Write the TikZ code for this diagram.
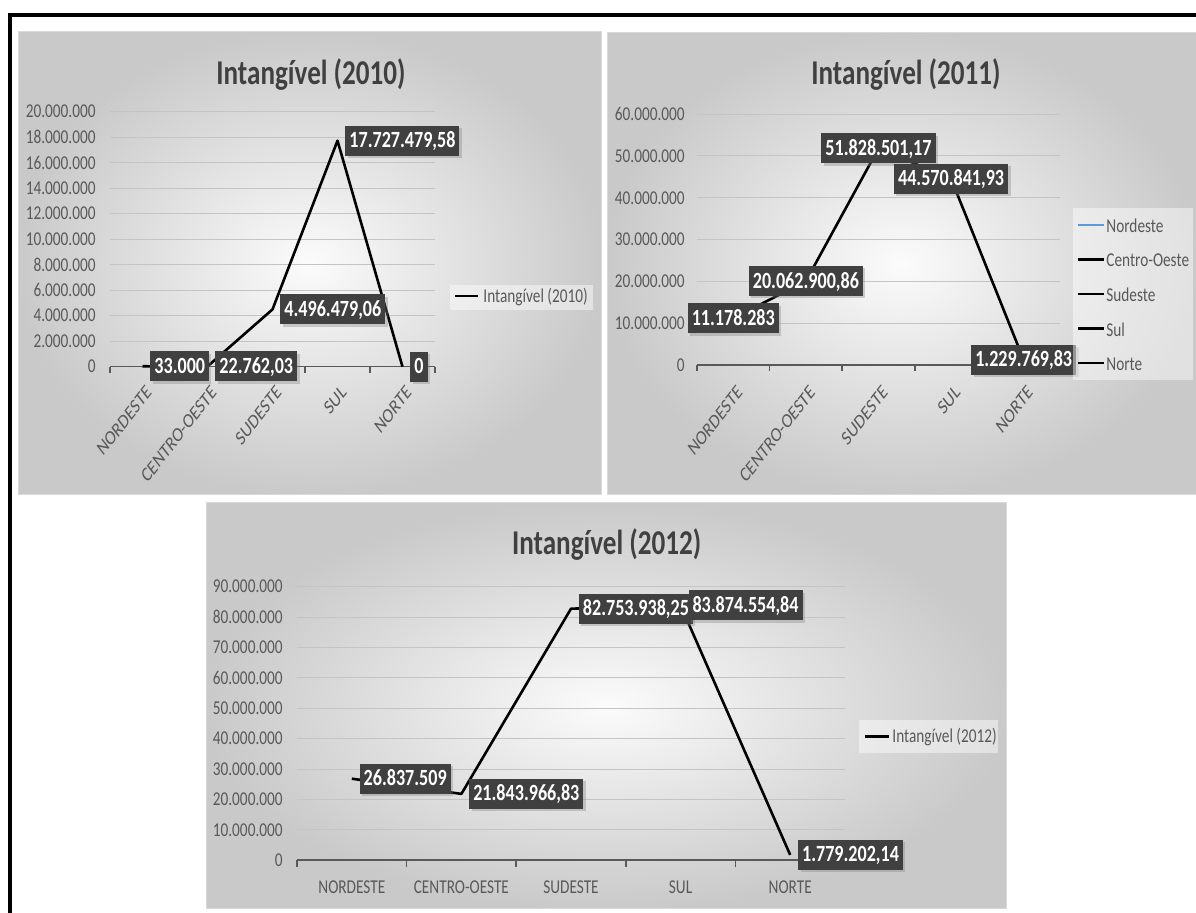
\documentclass[tikz,border=0pt]{standalone}
\usepackage{fontspec}
\setmainfont{Carlito}[FakeStretch=0.78]
\newfontfamily\widefont{Carlito}
\usetikzlibrary{shadows}
\definecolor{labelfill}{HTML}{404040}
\definecolor{axistext}{HTML}{595959}
\definecolor{gridgray}{HTML}{C4C4C4}
\definecolor{nordblue}{HTML}{5B9BD5}
\tikzset{
  panel/.style={draw=gray!30, line width=0.5pt, inner color=gray!3, outer color=gray!42},
  charttitle/.style={font=\bfseries\fontsize{17.4}{20}\selectfont, text=labelfill, anchor=base, inner sep=0pt},
  ylab/.style={font=\fontsize{9.8}{11}\selectfont, text=axistext, anchor=east, inner sep=0pt},
  xlab/.style={font=\widefont\fontsize{10.2}{11}\selectfont, text=axistext, anchor=north east, inner sep=0pt, xscale=0.78, rotate=45},
  xlabflat/.style={font=\fontsize{9.8}{11}\selectfont, text=axistext, inner sep=0pt},
  grid line/.style={gridgray, line width=0.5pt},
  axis line/.style={axistext, line width=0.8pt},
  series/.style={black, line width=1.3pt, line join=round},
  vallabel/.style={fill=labelfill, text=white, font=\bfseries\fontsize{11.6}{13}\selectfont,
    text height=7.6pt, text depth=0.6pt, inner xsep=2pt, inner ysep=3.4pt,
    drop shadow={shadow xshift=1.2pt, shadow yshift=-1.2pt, opacity=0.35}},
  legendbox/.style={fill=white, fill opacity=0.45},
  legendtext/.style={font=\fontsize{9.8}{11}\selectfont, text=axistext, anchor=west, inner sep=0pt},
}
\begin{document}
\begin{tikzpicture}[x=0.5pt, y=-0.5pt]
\useasboundingbox (0,0) rectangle (1196,913);
\fill[white] (0,0) rectangle (1196,913);
\draw[line width=2pt] (9.5,913) -- (9.5,15.3) -- (1196,15.3);

% ---- Intangivel (2010)
\shade[panel] (18,32) rectangle (601,495);
\node[charttitle] (t10) at (311,85) {Intangível (2010)};
\foreach \k/\v in {0/0,1/2.000.000,2/4.000.000,3/6.000.000,4/8.000.000,5/10.000.000,6/12.000.000,7/14.000.000,8/16.000.000,9/18.000.000,10/20.000.000}
  \node[ylab] at (96,366.7-25.5*\k) {\v};
\foreach \k in {1,...,10}
  \draw[grid line] (110,366.7-25.5*\k) -- (435,366.7-25.5*\k);
\draw[axis line] (110,366.7) -- (435,366.7);
\foreach \i in {0,...,5}
  \draw[axis line] (110+65*\i,366.7) -- (110+65*\i,373);
\foreach \i/\c in {0/NORDESTE,1/CENTRO-OESTE,2/SUDESTE,3/SUL,4/NORTE}
  \node[xlab] at (145+65*\i,384) {\c};
\coordinate (n10) at (142.5,366.3);
\coordinate (co10) at (207.5,366.4);
\coordinate (se10) at (272.5,309.4);
\coordinate (s10) at (337.5,140.7);
\coordinate (no10) at (402.5,366.7);
\draw[series] (n10) -- (co10) -- (se10) -- (s10) -- (no10);
\node[vallabel, anchor=west] (vn10) at ([xshift=3.75pt]n10) {33.000};
\node[vallabel, anchor=west] (vco10) at ([xshift=3.75pt]co10) {22.762,03};
\node[vallabel, anchor=west] (vse10) at ([xshift=3.75pt]se10) {4.496.479,06};
\node[vallabel, anchor=west] (vs10) at ([xshift=3.75pt]s10) {17.727.479,58};
\node[vallabel, anchor=west] (vno10) at ([xshift=3.75pt]no10) {0};
\fill[legendbox] (450,285) rectangle (593,310);
\draw[series] (455,296) -- (478,296);
\node[legendtext] (lg10) at (483,297) {Intangível (2010)};

% ---- Intangivel (2011)
\shade[panel] (607,33) rectangle (1196,495);
\node[charttitle] (t11) at (906,85) {Intangível (2011)};
\foreach \k/\v in {0/0,1/10.000.000,2/20.000.000,3/30.000.000,4/40.000.000,5/50.000.000,6/60.000.000}
  \node[ylab] at (685,365-41.8*\k) {\v};
\foreach \k in {1,...,6}
  \draw[grid line] (697,365-41.8*\k) -- (1060,365-41.8*\k);
\draw[axis line] (697,365) -- (1060,365);
\foreach \i in {0,...,5}
  \draw[axis line] (697+72.6*\i,365) -- (697+72.6*\i,371.3);
\foreach \i/\c in {0/NORDESTE,1/CENTRO-OESTE,2/SUDESTE,3/SUL,4/NORTE}
  \node[xlab] at (736+72.6*\i,384) {\c};
\coordinate (n11) at (733.3,318.3);
\coordinate (co11) at (805.9,281.1);
\coordinate (se11) at (878.5,148.4);
\coordinate (s11) at (951.1,178.7);
\coordinate (no11) at (1023.7,359.9);
\draw[series] (n11) -- (co11) -- (se11) -- (s11) -- (no11);
\node[vallabel] (vn11) at (n11) {11.178.283};
\node[vallabel] (vco11) at (co11) {20.062.900,86};
\node[vallabel] (vse11) at (se11) {51.828.501,17};
\node[vallabel] (vs11) at (s11) {44.570.841,93};
\node[vallabel] (vno11) at (no11) {1.229.769,83};
\fill[legendbox] (1073,208) rectangle (1193,380);
\foreach \j/\r/\col in {0/Nordeste/nordblue,1/Centro-Oeste/black,2/Sudeste/black,3/Sul/black,4/Norte/black}{
  \draw[series, draw=\col] (1078,225+34.5*\j) -- (1104,225+34.5*\j);
  \node[legendtext] at (1106,226+34.5*\j) {\r};
}

% ---- Intangivel (2012)
\shade[panel] (206.7,503) rectangle (1006.7,909);
\node[charttitle] (t12) at (606.7,555) {Intangível (2012)};
\foreach \k/\v in {0/0,1/10.000.000,2/20.000.000,3/30.000.000,4/40.000.000,5/50.000.000,6/60.000.000,7/70.000.000,8/80.000.000,9/90.000.000}
  \node[ylab] at (283,860.3-30.4*\k) {\v};
\foreach \k in {1,...,9}
  \draw[grid line] (297,860.3-30.4*\k) -- (845,860.3-30.4*\k);
\draw[axis line] (297,860.3) -- (845,860.3);
\foreach \i in {0,...,5}
  \draw[axis line] (297+109.6*\i,860.3) -- (297+109.6*\i,866.6);
\foreach \i/\c in {0/NORDESTE,1/CENTRO-OESTE,2/SUDESTE,3/SUL,4/NORTE}
  \node[xlabflat] at (351.8+109.6*\i,887) {\c};
\coordinate (n12) at (351.8,778.7);
\coordinate (co12) at (461.4,793.9);
\coordinate (se12) at (571,608.7);
\coordinate (s12) at (680.6,605.3);
\coordinate (no12) at (790.2,854.9);
\draw[series] (n12) -- (co12) -- (se12) -- (s12) -- (no12);
\node[vallabel, anchor=west] (vn12) at ([xshift=3.75pt]n12) {26.837.509};
\node[vallabel, anchor=west] (vco12) at ([xshift=3.75pt]co12) {21.843.966,83};
\node[vallabel, anchor=west] (vse12) at ([xshift=3.75pt]se12) {82.753.938,25};
\node[vallabel, anchor=west] (vs12) at ([xshift=3.75pt]s12) {83.874.554,84};
\node[vallabel, anchor=west] (vno12) at ([xshift=3.75pt]no12) {1.779.202,14};
\fill[legendbox] (859,720) rectangle (997.6,753);
\draw[series] (865,736.7) -- (889,736.7);
\node[legendtext] (lg12) at (892,737.5) {Intangível (2012)};
\end{tikzpicture}
\end{document}
